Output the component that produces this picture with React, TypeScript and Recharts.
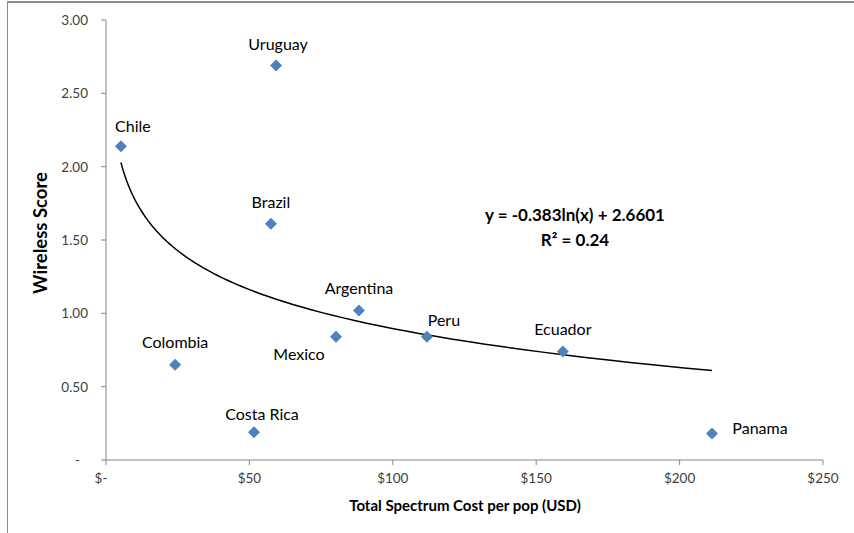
import { ScatterChart, Scatter, XAxis, YAxis } from "recharts";

const countries = ["Chile", "Uruguay", "Brazil", "Argentina", "Mexico", "Peru", "Ecuador", "Colombia", "Costa Rica", "Panama"];
const spectrumCost = [5.2, 59.3, 57.5, 88.2, 80.2, 111.9, 159.3, 24.1, 51.6, 211.3];
const wirelessScore = [2.14, 2.69, 1.61, 1.02, 0.84, 0.84, 0.74, 0.65, 0.19, 0.18];

const xTicks = [0, 50, 100, 150, 200, 250];
const yTicks = [0, 0.5, 1, 1.5, 2, 2.5, 3];

// trend line as printed on the chart: y = -0.383ln(x) + 2.6601
const trendSlope = -0.383;
const trendIntercept = 2.6601;
const trendFrom = 5.2;
const trendTo = 211.3;

const points = countries.map((name, i) => ({ name, x: spectrumCost[i], y: wirelessScore[i] }));

const trendData = Array.from({ length: 80 }, (_, i) => {
  const x = trendFrom * Math.pow(trendTo / trendFrom, i / 79);
  return { x, y: trendSlope * Math.log(x) + trendIntercept };
});

// where each label sits relative to its marker
const labelOffset: Record<string, [number, number]> = {
  Chile: [12, -21],
  Uruguay: [2, -22],
  Brazil: [0, -22],
  Argentina: [0, -23],
  Mexico: [-37, 17],
  Peru: [17, -17],
  Ecuador: [0, -23],
  Colombia: [0, -23],
  "Costa Rica": [8, -19],
  Panama: [48, -6],
};

const FONT = "Lato, 'Open Sans', sans-serif";
const AXIS = "#868686";
const TEXT = "#404040";

function Diamond(props: any) {
  const { cx, cy, payload } = props;
  const [dx, dy] = labelOffset[payload.name] || [0, -20];
  const r = 6;
  return (
    <g>
      <path d={`M${cx},${cy - r}L${cx + r},${cy}L${cx},${cy + r}L${cx - r},${cy}Z`} fill="#4F81BD" />
      <text x={cx + dx} y={cy + dy} textAnchor="middle" dominantBaseline="central" fontSize={16} fontFamily={FONT} fill="#000">
        {payload.name}
      </text>
    </g>
  );
}

function YTick(props: any) {
  const { x, y, payload } = props;
  const v = payload.value;
  return (
    <text x={v === 0 ? x - 8 : x} y={y} textAnchor="end" dominantBaseline="central" fontSize={13.5} fontFamily={FONT} fill={TEXT}>
      {v === 0 ? "-" : v.toFixed(2)}
    </text>
  );
}

function XTick(props: any) {
  const { x, y, payload } = props;
  const v = payload.value;
  return (
    <text x={v === 0 ? x - 5 : x} y={y} textAnchor="middle" dominantBaseline="hanging" fontSize={13.5} fontFamily={FONT} fill={TEXT}>
      {v === 0 ? "$-" : `$${v}`}
    </text>
  );
}

export default function App() {
  return (
    <div style={{ position: "absolute", left: 0, top: 0, width: 854, height: 533, background: "#fff", fontFamily: FONT }}>
      <div style={{ position: "absolute", left: 7, top: 1, width: 847, height: 532, borderTop: "2px solid #8c8c8c", borderLeft: "1px solid #8c8c8c" }} />
      <ScatterChart width={854} height={533} margin={{ top: 20, right: 31, bottom: 43, left: 36 }}>
        <XAxis
          type="number"
          dataKey="x"
          domain={[0, 250]}
          ticks={xTicks}
          interval={0}
          allowDataOverflow
          stroke={AXIS}
          tickSize={5}
          tickMargin={8}
          height={30}
          tick={<XTick />}
        />
        <YAxis
          type="number"
          dataKey="y"
          domain={[0, 3]}
          ticks={yTicks}
          interval={0}
          stroke={AXIS}
          tickSize={5}
          tickMargin={13}
          width={70}
          tick={<YTick />}
        />
        <Scatter
          data={trendData}
          line={{ stroke: "#000", strokeWidth: 1.5 }}
          lineType="joint"
          shape={() => <g />}
          isAnimationActive={false}
        />
        <Scatter data={points} shape={<Diamond />} isAnimationActive={false} />
      </ScatterChart>
      <div style={{ position: "absolute", left: 425, top: 202, width: 300, textAlign: "center", fontWeight: 700, fontSize: 17, lineHeight: "25px", color: "#000" }}>
        y = -0.383ln(x) + 2.6601
        <br />
        R² = 0.24
      </div>
      <div style={{ position: "absolute", left: 265, top: 496, width: 400, textAlign: "center", fontWeight: 700, fontSize: 15, color: "#000" }}>
        Total Spectrum Cost per pop (USD)
      </div>
      <div
        style={{
          position: "absolute",
          left: 40,
          top: 233,
          width: 200,
          textAlign: "center",
          fontWeight: 700,
          fontSize: 18.5,
          color: "#000",
          transform: "translate(-50%, -50%) rotate(-90deg)",
        }}
      >
        Wireless Score
      </div>
    </div>
  );
}
